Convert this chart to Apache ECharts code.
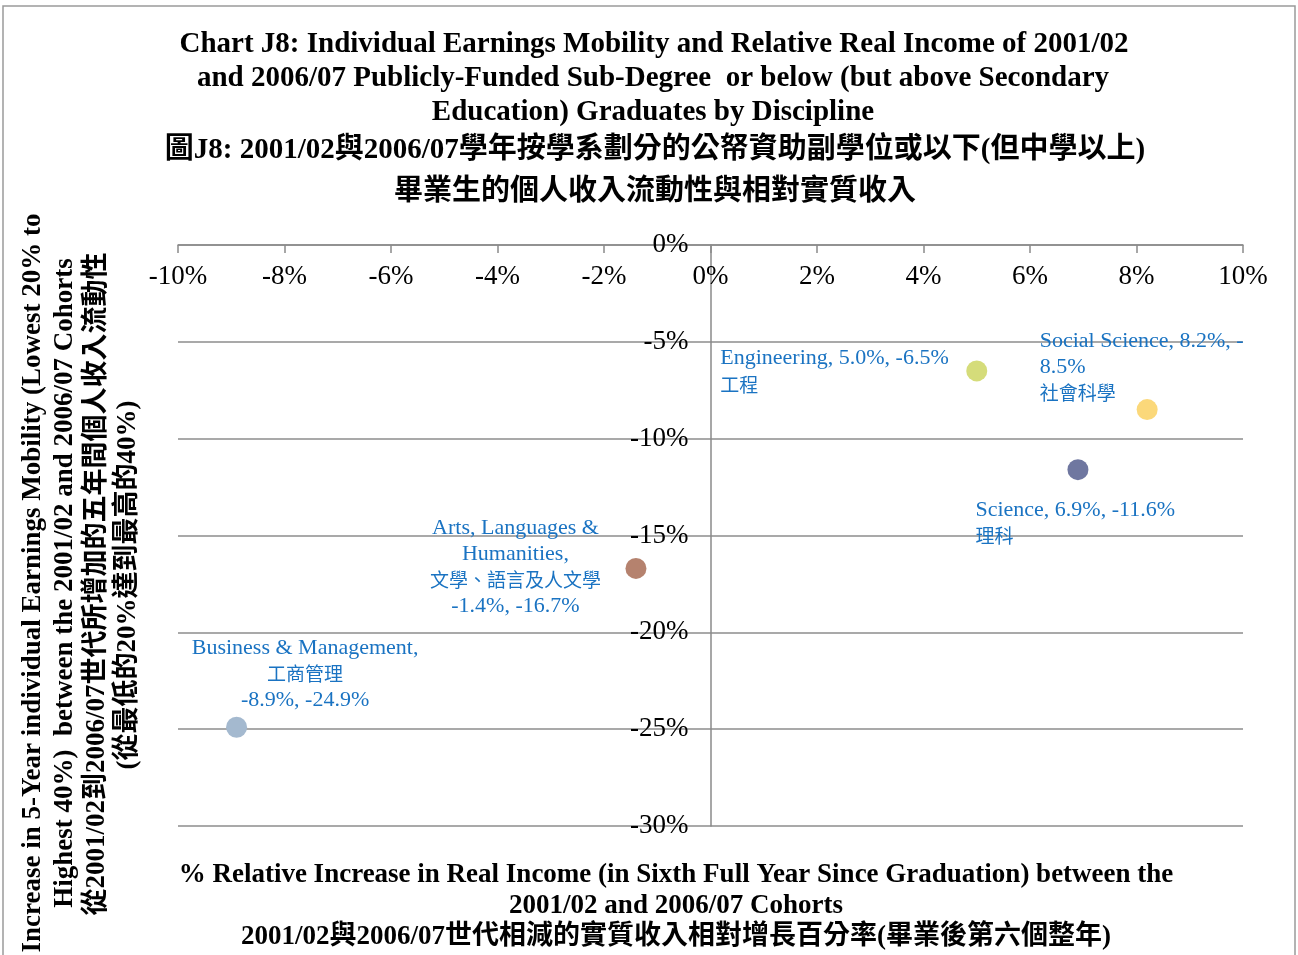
<!DOCTYPE html>
<html>
<head>
<meta charset="utf-8">
<script src="https://cdn.jsdelivr.net/npm/echarts@6/dist/echarts.min.js"></script>
<style>
  html, body { margin: 0; padding: 0; background: #fff; }
  #chart { width: 1298px; height: 955px; }
</style>
</head>
<body>
<div id="chart"></div>
<script>
// data
var disciplines = ['Engineering', 'Social Science', 'Science', 'Arts, Languages & Humanities', 'Business & Management'];
var disciplinesZh = ['工程', '社會科學', '理科', '文學、語言及人文學', '工商管理'];
var incomeChange = [5.0, 8.2, 6.9, -1.4, -8.9];      // x, %
var mobilityChange = [-6.5, -8.5, -11.6, -16.7, -24.9]; // y, %
var pointColors = ['#d5dc7a', '#fbd87a', '#6f77a0', '#b5826e', '#a4b9cf'];

var serif = "'Liberation Serif', 'Noto Sans CJK TC', serif";
var labelBlue = '#1a73c2';

function pct(v) { return v.toFixed(1) + '%'; }

// label text for each point, laid out like the original
var labelText = [
  function (i) { return '{en|' + disciplines[i] + ', ' + pct(incomeChange[i]) + ', ' + pct(mobilityChange[i]) + '}\n{zh|' + disciplinesZh[i] + '}'; },
  function (i) { return '{en|' + disciplines[i] + ', ' + pct(incomeChange[i]) + ', -}\n{en|' + pct(-mobilityChange[i]) + '}\n{zh|' + disciplinesZh[i] + '}'; },
  function (i) { return '{en|' + disciplines[i] + ', ' + pct(incomeChange[i]) + ', ' + pct(mobilityChange[i]) + '}\n{zh|' + disciplinesZh[i] + '}'; },
  function (i) { return '{en|Arts, Languages &}\n{en|Humanities,}\n{zh|' + disciplinesZh[i] + '}\n{en|' + pct(incomeChange[i]) + ', ' + pct(mobilityChange[i]) + '}'; },
  function (i) { return '{en|' + disciplines[i] + ',}\n{zh|' + disciplinesZh[i] + '}\n{en|' + pct(incomeChange[i]) + ', ' + pct(mobilityChange[i]) + '}'; }
];
var labelPos = [[-246, -15], [-97, -71], [-92, 38], [-110, -43], [79, -82]];
var labelAlign = ['left', 'left', 'left', 'center', 'center'];

var points = incomeChange.map(function (x, i) {
  return {
    name: disciplines[i],
    value: [x, mobilityChange[i]],
    itemStyle: { color: pointColors[i], opacity: 1 },
    label: {
      show: true,
      opacity: 1,
      position: labelPos[i],
      align: labelAlign[i],
      verticalAlign: 'top',
      formatter: labelText[i](i),
      rich: {
        en: { fontFamily: serif, fontSize: 22, lineHeight: 26, color: labelBlue, align: labelAlign[i] },
        zh: { fontFamily: "'Noto Sans CJK TC'", fontSize: 19, lineHeight: 26, color: labelBlue, align: labelAlign[i] }
      }
    }
  };
});

var chart = echarts.init(document.getElementById('chart'));

function txt(x, y, text, size, rotation) {
  return {
    type: 'text',
    x: x, y: y,
    rotation: rotation || 0,
    style: {
      text: text,
      font: 'bold ' + size + 'px ' + serif,
      fill: '#000',
      align: 'center', textAlign: 'center',
      verticalAlign: 'middle', textVerticalAlign: 'middle'
    }
  };
}

var option = {
  backgroundColor: '#fff',
  animation: false,
  grid: { left: 178, right: 55, top: 245, bottom: 129 },
  xAxis: {
    type: 'value',
    position: 'top',
    min: -10, max: 10, interval: 2,
    axisLine: { onZero: false, lineStyle: { color: '#8a8a8a', width: 1.5 } },
    axisTick: { show: true, inside: true, length: 8, lineStyle: { color: '#8a8a8a', width: 1.5 } },
    axisLabel: { inside: true, formatter: '{value}%', fontFamily: serif, fontSize: 27, color: '#000', margin: 18 },
    splitLine: { show: false }
  },
  yAxis: {
    type: 'value',
    min: -30, max: 0, interval: 5,
    offset: -532.5, // sits on x = 0
    axisLine: { show: true, onZero: false, lineStyle: { color: '#8a8a8a', width: 1.5 } },
    axisTick: { show: false },
    axisLabel: { formatter: '{value}%', fontFamily: serif, fontSize: 27, color: '#000', margin: 22 },
    splitLine: { show: true, lineStyle: { color: '#8c8c8c', width: 1.5 } }
  },
  series: [{
    type: 'scatter',
    symbolSize: 21,
    data: points
  }],
  graphic: [
    { type: 'rect', shape: { x: 3, y: 6, width: 1292, height: 980 }, style: { fill: null, stroke: '#9a9a9a', lineWidth: 1.5 }, z: -1 },
    txt(654, 45, 'Chart J8: Individual Earnings Mobility and Relative Real Income of 2001/02', 29),
    txt(653, 79, 'and 2006/07 Publicly-Funded Sub-Degree  or below (but above Secondary', 29),
    txt(653, 113, 'Education) Graduates by Discipline', 29),
    txt(655, 151, '圖J8: 2001/02與2006/07學年按學系劃分的公帑資助副學位或以下(但中學以上)', 29),
    txt(655, 193, '畢業生的個人收入流動性與相對實質收入', 29),
    txt(33, 583, 'Increase in 5-Year individual Earnings Mobility (Lowest 20% to', 27, Math.PI / 2),
    txt(65, 583, 'Highest 40%)  between the 2001/02 and 2006/07 Cohorts', 27, Math.PI / 2),
    txt(97, 584, '從2001/02到2006/07世代所增加的五年間個人收入流動性', 27, Math.PI / 2),
    txt(128, 585, '(從最低的20%達到最高的40%)', 27, Math.PI / 2),
    txt(676, 875, '% Relative Increase in Real Income (in Sixth Full Year Since Graduation) between the', 27),
    txt(676, 906, '2001/02 and 2006/07 Cohorts', 27),
    txt(676, 937, '2001/02與2006/07世代相減的實質收入相對增長百分率(畢業後第六個整年)', 27)
  ]
};

chart.setOption(option);
</script>
</body>
</html>
